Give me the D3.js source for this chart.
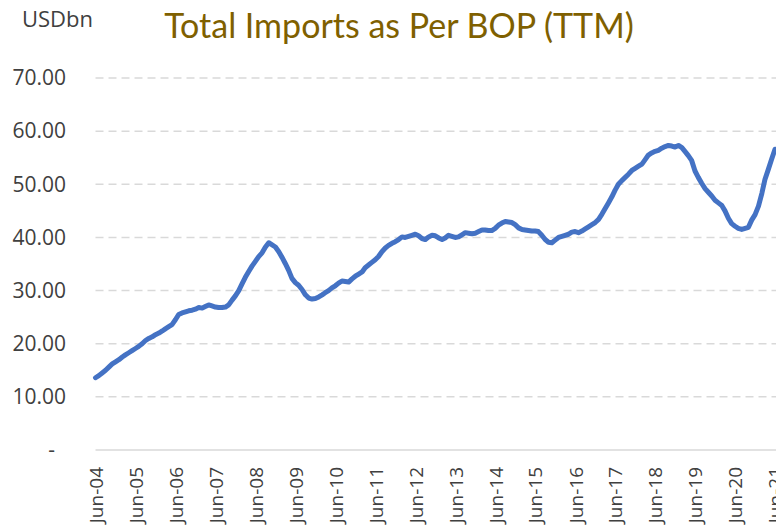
<!DOCTYPE html>
<html>
<head>
<meta charset="utf-8">
<script src="https://cdn.jsdelivr.net/npm/d3@7"></script>
<style>
  body { margin: 0; background: #fff; }
  svg { display: block; }
</style>
</head>
<body>
<svg id="chart" width="776" height="532"></svg>
<script>
// monthly TTM imports, USD bn, Jun-04 .. Jun-21
const startYear = 2004
const values = [
  13.6, 14.0, 14.5, 15.0, 15.6, 16.2, 16.6, 17.0, 17.5, 17.9, 18.3, 18.7,
  19.1, 19.5, 20.0, 20.6, 21.0, 21.3, 21.7, 22.0, 22.4, 22.8, 23.2, 23.6,
  24.5, 25.5, 25.8, 26.0, 26.2, 26.3, 26.5, 26.8, 26.7, 27.0, 27.3, 27.1,
  26.9, 26.8, 26.8, 26.9, 27.3, 28.2, 29.0, 30.0, 31.3, 32.5, 33.6, 34.6,
  35.5, 36.4, 37.1, 38.2, 39.0, 38.6, 38.2, 37.3, 36.2, 35.1, 33.8, 32.3,
  31.5, 31.0, 30.2, 29.2, 28.6, 28.4, 28.5, 28.8, 29.2, 29.6, 30.0, 30.5,
  30.9, 31.4, 31.8, 31.7, 31.6, 32.2, 32.7, 33.1, 33.5, 34.3, 34.8, 35.3,
  35.8, 36.4, 37.3, 38.0, 38.5, 38.9, 39.2, 39.6, 40.1, 40.0, 40.2, 40.4,
  40.6, 40.3, 39.8, 39.6, 40.1, 40.4, 40.3, 39.9, 39.6, 39.9, 40.4, 40.2,
  40.0, 40.1, 40.5, 40.9, 40.8, 40.7, 40.8, 41.1, 41.4, 41.4, 41.3, 41.3,
  41.7, 42.3, 42.7, 43.0, 42.9, 42.8, 42.4, 41.8, 41.5, 41.4, 41.3, 41.2,
  41.2, 41.1, 40.4, 39.6, 39.1, 39.0, 39.5, 40.0, 40.2, 40.4, 40.6, 41.0,
  41.1, 40.9, 41.2, 41.6, 42.0, 42.4, 42.8, 43.4, 44.4, 45.4, 46.5, 47.6,
  48.9, 50.0, 50.7, 51.3, 51.9, 52.6, 53.0, 53.4, 53.8, 54.6, 55.5, 55.9,
  56.2, 56.4, 56.8, 57.1, 57.3, 57.2, 57.0, 57.3, 56.9, 56.2, 55.4, 54.5,
  52.5, 51.3, 50.2, 49.2, 48.5, 47.8, 47.0, 46.5, 46.0, 45.0, 43.6, 42.6,
  42.1, 41.7, 41.5, 41.7, 41.9, 43.3, 44.3, 45.9, 48.3, 50.9, 52.8, 54.7,
  56.6
]
const yTicks = [0, 10, 20, 30, 40, 50, 60, 70]
const xTickLabels = ["Jun-04", "Jun-05", "Jun-06", "Jun-07", "Jun-08", "Jun-09",
  "Jun-10", "Jun-11", "Jun-12", "Jun-13", "Jun-14", "Jun-15", "Jun-16", "Jun-17",
  "Jun-18", "Jun-19", "Jun-20", "Jun-21"]

const months = values.map((v, i) => new Date(startYear, 5 + i, 1))
const tickDates = xTickLabels.map((d, i) => new Date(startYear + i, 5, 1))

const svg = d3.select("#chart")
const plotLeft = 95.5, plotRight = 775, plotTop = 78, plotBottom = 450

const x = d3.scaleTime()
  .domain([months[0], months[months.length - 1]])
  .range([plotLeft, plotRight])
const y = d3.scaleLinear().domain([0, 70]).range([plotBottom, plotTop])

// gridlines
svg.append("g")
  .selectAll("line")
  .data(yTicks.filter(d => d > 0))
  .enter()
  .append("line")
  .attr("x1", plotLeft)
  .attr("x2", 776)
  .attr("y1", d => y(d))
  .attr("y2", d => y(d))
  .attr("stroke", "#d9d9d9")
  .attr("stroke-width", 1.5)
  .attr("stroke-dasharray", "8,5")

// zero axis
svg.append("line")
  .attr("x1", plotLeft).attr("x2", 776)
  .attr("y1", y(0)).attr("y2", y(0))
  .attr("stroke", "#d9d9d9")
  .attr("stroke-width", 1.5)

// y labels
const yAxis = d3.axisLeft(y)
  .tickValues(yTicks)
  .tickSize(0)
  .tickPadding(0)
  .tickFormat(d => d === 0 ? "-" : d.toFixed(2))
svg.append("g")
  .attr("transform", "translate(66,0)")
  .call(yAxis)
  .call(g => g.select(".domain").remove())
  .selectAll("text")
  .attr("fill", "#404040")
  .style("font-family", "'Open Sans', sans-serif")
  .style("font-size", "21px")
  .attr("x", (d) => d === 0 ? -11 : 0)

// x labels
const xAxis = d3.axisBottom(x)
  .tickValues(tickDates)
  .tickSize(0)
  .tickFormat((d, i) => xTickLabels[i])
svg.append("g")
  .attr("transform", "translate(0," + plotBottom + ")")
  .call(xAxis)
  .call(g => g.select(".domain").remove())
  .selectAll("text")
  .attr("fill", "#404040")
  .style("font-family", "'Open Sans', sans-serif")
  .style("font-size", "19px")
  .attr("text-anchor", "end")
  .attr("transform", "rotate(-90)")
  .attr("x", -17)
  .attr("y", 0)
  .attr("dy", "0.36em")

// the line
const line = d3.line()
  .x((d, i) => x(months[i]))
  .y(d => y(d))
svg.append("path")
  .datum(values)
  .attr("d", line)
  .attr("fill", "none")
  .attr("stroke", "#4472c4")
  .attr("stroke-width", 5)
  .attr("stroke-linejoin", "round")
  .attr("stroke-linecap", "round")

// titles
svg.append("text")
  .attr("x", 399)
  .attr("y", 38)
  .attr("text-anchor", "middle")
  .attr("fill", "#7f6000")
  .style("font-family", "Lato, sans-serif")
  .style("font-size", "34px")
  .text("Total Imports as Per BOP (TTM)")

svg.append("text")
  .attr("x", 22)
  .attr("y", 27)
  .attr("fill", "#404040")
  .style("font-family", "'Open Sans', sans-serif")
  .style("font-size", "22px")
  .text("USDbn")
</script>
</body>
</html>
